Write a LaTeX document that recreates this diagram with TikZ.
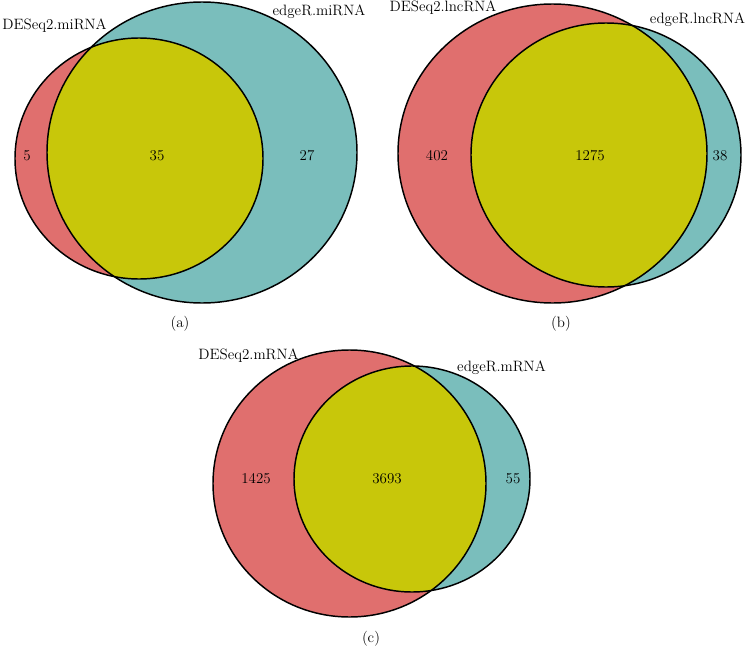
\documentclass[tikz,border=0pt]{standalone}
\definecolor{vred}{RGB}{224,111,110}
\definecolor{vteal}{RGB}{122,190,188}
\definecolor{vyellow}{RGB}{200,199,10}
\tikzset{
  outl/.style={draw=black, line width=1.1pt},
  lbl/.style={font=\fontsize{11.25}{13}\selectfont, inner sep=0pt, anchor=base},
}
% args: cxA cyA rxA ryA (DESeq2, red)  cxB cyB rxB ryB (edgeR, teal)
\newcommand\vennpair[8]{%
  \fill[vred] (#1,#2) ellipse [x radius=#3, y radius=#4];
  \fill[vteal] (#5,#6) ellipse [x radius=#7, y radius=#8];
  \begin{scope}
    \clip (#1,#2) ellipse [x radius=#3, y radius=#4];
    \fill[vyellow] (#5,#6) ellipse [x radius=#7, y radius=#8];
  \end{scope}
  \draw[outl] (#1,#2) ellipse [x radius=#3, y radius=#4];
  \draw[outl] (#5,#6) ellipse [x radius=#7, y radius=#8];
}
\begin{document}
\begin{tikzpicture}[x=0.75pt,y=-0.75pt]
\useasboundingbox (0,0) rectangle (747,646);
% panel (a)
\vennpair{139}{158.5}{124}{120.5}{202}{152.5}{155}{150.5}
\node[lbl] (aA) at (54.5,29) {DESeq2.miRNA};
\node[lbl] (aB) at (319,16) {edgeR.miRNA};
\node[lbl] (a1) at (27,160) {5};
\node[lbl] (a2) at (157,160) {35};
\node[lbl] (a3) at (307,160) {27};
\node[lbl] (acap) at (180,327) {(a)};
% panel (b)
\vennpair{552.5}{153.5}{154.5}{149.5}{606}{155}{135}{132}
\node[lbl] (bA) at (443,12) {DESeq2.lncRNA};
\node[lbl] (bB) at (697.5,23) {edgeR.lncRNA};
\node[lbl] (b1) at (437,160) {402};
\node[lbl] (b2) at (590,160) {1275};
\node[lbl] (b3) at (720,160) {38};
\node[lbl] (bcap) at (561,327) {(b)};
% panel (c)
\vennpair{349.5}{483.5}{136.5}{133.5}{412}{479}{118}{113}
\node[lbl] (cA) at (248.5,359) {DESeq2.mRNA};
\node[lbl] (cB) at (501.5,371.5) {edgeR.mRNA};
\node[lbl] (c1) at (256,483) {1425};
\node[lbl] (c2) at (387,483) {3693};
\node[lbl] (c3) at (513,483) {55};
\node[lbl] (ccap) at (371,642) {(c)};
\end{tikzpicture}
\end{document}
